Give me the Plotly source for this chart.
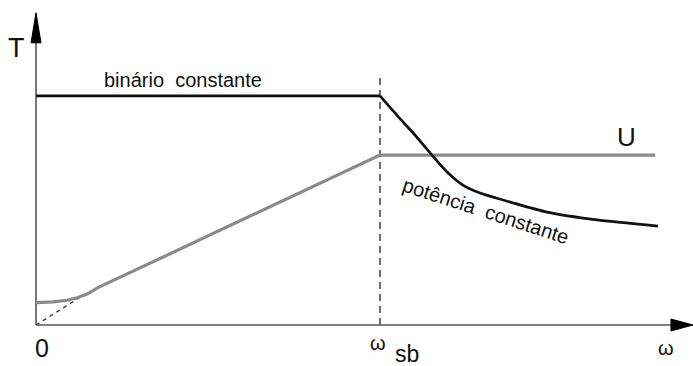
import plotly.graph_objects as go

# Normalised speed (omega / omega_sb) and torque / voltage (T / T_nominal)
omega_const = [0.0, 1.0]
torque_const = [1.0, 1.0]

omega_power = [1.0, 1.049, 1.099, 1.151, 1.195, 1.241, 1.291, 1.387, 1.485, 1.631, 1.808]
torque_power = [1.0, 0.916, 0.834, 0.742, 0.668, 0.611, 0.576, 0.533, 0.493, 0.459, 0.432]

omega_volt = [0.0, 0.05, 0.09, 0.12, 0.15, 0.18, 1.0, 1.80]
volt = [0.098, 0.101, 0.108, 0.119, 0.136, 0.163, 0.742, 0.742]

omega_ideal = [0.0, 0.125]
volt_ideal = [0.0, 0.118]

omega_base = 1.0

# Axis extents in data units
X_MIN, X_MAX = -0.1047, 1.9099
Y_MIN, Y_MAX = -0.179, 1.419
Y_TOP = 1.363          # tip of the vertical arrow
DASH_TOP = 1.079       # top of the omega_sb marker

FONT = "Liberation Sans, Arial, sans-serif"
INK = "#111111"
GREY = "#8a8a8a"
AXIS = "#555555"

fig = go.Figure()

# vertical marker at the base speed
fig.add_trace(go.Scatter(x=[omega_base, omega_base], y=[0, DASH_TOP], mode="lines",
                         line=dict(color=INK, width=1.2, dash="7px,5px"),
                         hoverinfo="skip", showlegend=False))

# axes
fig.add_trace(go.Scatter(x=[0, 0], y=[0, Y_TOP - 0.1], mode="lines",
                         line=dict(color=AXIS, width=1.6), showlegend=False))
fig.add_trace(go.Scatter(x=[0, X_MAX - 0.05], y=[0, 0], mode="lines",
                         line=dict(color=AXIS, width=1.6), showlegend=False))
# arrow heads
fig.add_trace(go.Scatter(x=[0, -0.0145, 0.0145, 0], y=[Y_TOP, Y_TOP - 0.131, Y_TOP - 0.131, Y_TOP],
                         mode="lines", fill="toself", fillcolor="black",
                         line=dict(color="black", width=1), showlegend=False))
fig.add_trace(go.Scatter(x=[X_MAX, X_MAX - 0.064, X_MAX - 0.064, X_MAX], y=[0, 0.026, -0.026, 0],
                         mode="lines", fill="toself", fillcolor="black",
                         line=dict(color="black", width=1), showlegend=False))

# ideal (compensation-free) voltage start
fig.add_trace(go.Scatter(x=omega_ideal, y=volt_ideal, mode="lines",
                         line=dict(color="#333333", width=1.3, dash="4px,4px"), showlegend=False))

# voltage U
fig.add_trace(go.Scatter(x=omega_volt, y=volt, mode="lines",
                         line=dict(color=GREY, width=3.2), showlegend=False))

# torque: constant-torque region then constant-power region
fig.add_trace(go.Scatter(x=omega_const, y=torque_const, mode="lines",
                         line=dict(color=INK, width=2.7), showlegend=False))
fig.add_trace(go.Scatter(x=omega_power, y=torque_power, mode="lines",
                         line=dict(color=INK, width=2.7, shape="spline", smoothing=0.6),
                         showlegend=False))


def label(text, x, y, size, angle=0, xanchor="center"):
    fig.add_annotation(x=x, y=y, text=text, showarrow=False, textangle=angle,
                       xanchor=xanchor, yanchor="middle",
                       font=dict(family=FONT, size=size, color=INK))


label("T", -0.058, 1.21, 27)
label("0", 0.017, -0.10, 25)
label("ω", 0.995, -0.08, 20)
label("sb", 1.078, -0.125, 23)
label("ω", 1.83, -0.10, 20)
label("U", 1.717, 0.82, 26)
label("binário  constante", 0.427, 1.07, 20)
label("potência  constante", 1.308, 0.497, 20, angle=18)

fig.update_layout(
    width=693, height=366,
    margin=dict(l=0, r=0, t=0, b=0),
    paper_bgcolor="white", plot_bgcolor="white",
    xaxis=dict(range=[X_MIN, X_MAX], visible=False, fixedrange=True),
    yaxis=dict(range=[Y_MIN, Y_MAX], visible=False, fixedrange=True),
    showlegend=False,
)

fig.write_html("out.html")
